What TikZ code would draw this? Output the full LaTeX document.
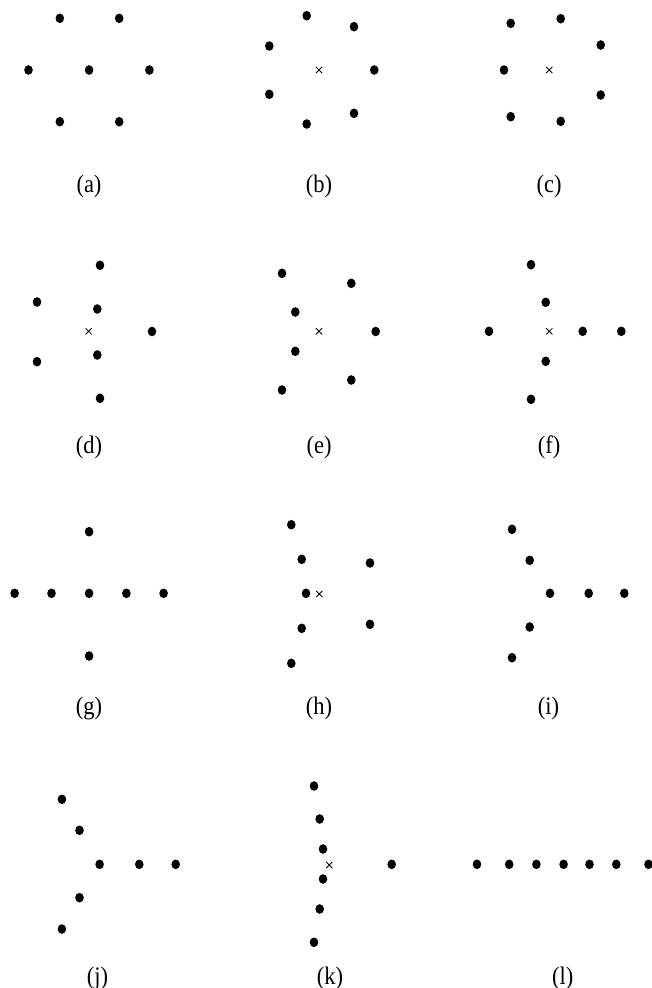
\documentclass[tikz,border=0pt]{standalone}
\usepackage{fontspec}
\setmainfont{Liberation Serif}
\usetikzlibrary{shapes.geometric, shapes.misc}

\newcommand{\didascalia}[1]{\scalebox{1}[1.12]{#1}}

\begin{document}
\begin{tikzpicture}[x=1pt, y=-1pt]

% Stili
\tikzstyle{bead} = [ellipse, fill=black, inner sep=0pt,
    minimum width=8.6pt, minimum height=9.6pt]
\tikzstyle{centro} = [cross out, draw, line width=0.8pt,
    inner sep=0pt, minimum size=5.4pt]
\tikzstyle{etichetta} = [font=\fontsize{22.5}{25}\selectfont]

\useasboundingbox (0,0) rectangle (652,988);

% (a)
\node (a1) [bead] at (59.8,18.3) {};
\node (a2) [bead] at (119.2,18.3) {};
\node (a3) [bead] at (28.5,70) {};
\node (a4) [bead] at (89.1,70) {};
\node (a5) [bead] at (149.4,70) {};
\node (a6) [bead] at (59.8,121.7) {};
\node (a7) [bead] at (119.2,121.7) {};
\node (la) [etichetta] at (89,186) {\didascalia{(a)}};

% (b)
\node (b0) [centro] at (319,70) {};
\node (b1) [bead] at (306.7,15.7) {};
\node (b2) [bead] at (354,26.7) {};
\node (b3) [bead] at (269.3,46) {};
\node (b4) [bead] at (374.3,70) {};
\node (b5) [bead] at (269.3,94.3) {};
\node (b6) [bead] at (354,113.3) {};
\node (b7) [bead] at (306.7,124) {};
\node (lb) [etichetta] at (319,186) {\didascalia{(b)}};

% (c)
\node (c0) [centro] at (549.3,70) {};
\node (c1) [bead] at (510.7,23.3) {};
\node (c2) [bead] at (560.7,18.7) {};
\node (c3) [bead] at (600.7,45) {};
\node (c4) [bead] at (504,70) {};
\node (c5) [bead] at (600.7,95) {};
\node (c6) [bead] at (510.7,116.7) {};
\node (c7) [bead] at (560.7,121.3) {};
\node (lc) [etichetta] at (549,186) {\didascalia{(c)}};

% (d)
\node (d0) [centro] at (88.7,331.3) {};
\node (d1) [bead] at (100,265.3) {};
\node (d2) [bead] at (37,302) {};
\node (d3) [bead] at (97.3,309) {};
\node (d4) [bead] at (152,331.5) {};
\node (d5) [bead] at (97.3,355) {};
\node (d6) [bead] at (37,361.7) {};
\node (d7) [bead] at (100,398.3) {};
\node (ld) [etichetta] at (89,447) {\didascalia{(d)}};

% (e)
\node (e0) [centro] at (319,331.3) {};
\node (e1) [bead] at (282,273.3) {};
\node (e2) [bead] at (351.3,283.3) {};
\node (e3) [bead] at (295.3,312) {};
\node (e4) [bead] at (375.7,331.5) {};
\node (e5) [bead] at (295.3,351.3) {};
\node (e6) [bead] at (351.3,380) {};
\node (e7) [bead] at (282,390) {};
\node (le) [etichetta] at (319,447) {\didascalia{(e)}};

% (f)
\node (f0) [centro] at (549.3,331.3) {};
\node (f1) [bead] at (531,264.7) {};
\node (f2) [bead] at (545.7,302.3) {};
\node (f3) [bead] at (489,331.3) {};
\node (f4) [bead] at (582.7,331.3) {};
\node (f5) [bead] at (621.3,331.3) {};
\node (f6) [bead] at (545.7,361.3) {};
\node (f7) [bead] at (531,399.3) {};
\node (lf) [etichetta] at (549,447) {\didascalia{(f)}};

% (g)
\node (g1) [bead] at (89.1,531.7) {};
\node (g2) [bead] at (14.6,593.3) {};
\node (g3) [bead] at (51.5,593.3) {};
\node (g4) [bead] at (89.1,593.3) {};
\node (g5) [bead] at (126.4,593.3) {};
\node (g6) [bead] at (163.6,593.3) {};
\node (g7) [bead] at (89.1,656) {};
\node (lg) [etichetta] at (89,708) {\didascalia{(g)}};

% (h)
\node (h0) [centro] at (319.3,594) {};
\node (h1) [bead] at (291.3,524.7) {};
\node (h2) [bead] at (301.7,559.3) {};
\node (h3) [bead] at (370,563) {};
\node (h4) [bead] at (306,593.3) {};
\node (h5) [bead] at (301.7,628.3) {};
\node (h6) [bead] at (370,624.3) {};
\node (h7) [bead] at (291.3,663.3) {};
\node (lh) [etichetta] at (319,708) {\didascalia{(h)}};

% (i)
\node (i1) [bead] at (512,529.3) {};
\node (i2) [bead] at (529.7,560.3) {};
\node (i3) [bead] at (550,593.3) {};
\node (i4) [bead] at (588.7,593.3) {};
\node (i5) [bead] at (624.3,593.3) {};
\node (i6) [bead] at (529.7,627) {};
\node (i7) [bead] at (512,657.7) {};
\node (li) [etichetta] at (548.5,708) {\didascalia{(i)}};

% (j)
\node (j1) [bead] at (61.9,799.3) {};
\node (j2) [bead] at (79.5,830.3) {};
\node (j3) [bead] at (99.6,864.3) {};
\node (j4) [bead] at (139.3,864.3) {};
\node (j5) [bead] at (175.7,864.3) {};
\node (j6) [bead] at (79.5,897.7) {};
\node (j7) [bead] at (61.9,929) {};
\node (lj) [etichetta] at (97.5,978) {\didascalia{(j)}};

% (k)
\node (k0) [centro] at (329.3,865) {};
\node (k1) [bead] at (314,786) {};
\node (k2) [bead] at (319.7,819) {};
\node (k3) [bead] at (323,849) {};
\node (k4) [bead] at (391.7,864.3) {};
\node (k5) [bead] at (323,879) {};
\node (k6) [bead] at (319.7,909) {};
\node (k7) [bead] at (314,942.3) {};
\node (lk) [etichetta] at (330,978) {\didascalia{(k)}};

% (l)
\foreach \x [count=\n] in {477,509.2,536.4,563.6,589.5,616.3,648.5}
    \node (l\n) [bead] at (\x,864.3) {};
\node (ll) [etichetta] at (562.8,978) {\didascalia{(l)}};

\end{tikzpicture}
\end{document}
